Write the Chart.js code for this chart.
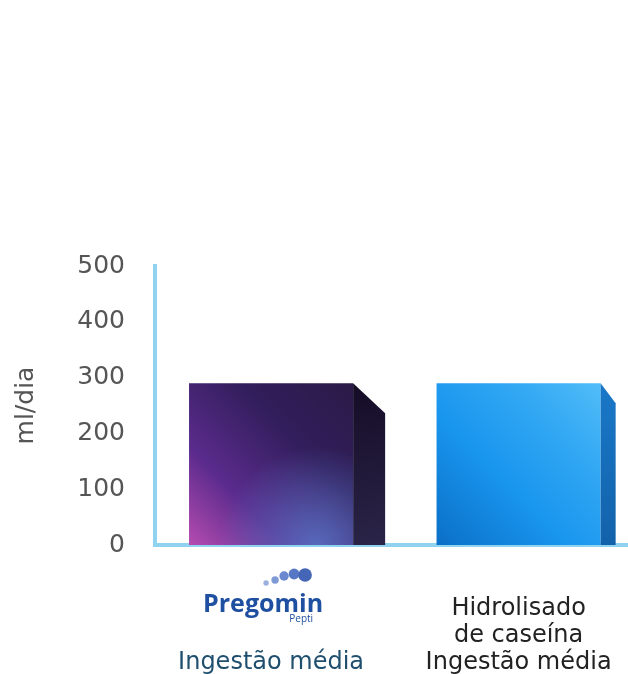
<!DOCTYPE html>
<html>
<head>
<meta charset="utf-8">
<script src="https://cdn.jsdelivr.net/npm/chart.js@4.4.1/dist/chart.umd.min.js"></script>
<style>
  html, body { margin: 0; padding: 0; background: #fff; }
  #wrap { width: 628px; height: 674px; }
</style>
</head>
<body>
<div id="wrap"><canvas id="chart"></canvas></div>
<script>
// dados
var categories = [
    ['', '', 'Ingestão média'],
    ['Hidrolisado', 'de caseína', 'Ingestão média']
];
var values = [290, 290];
var yTicks = [0, 100, 200, 300, 400, 500];
var yTitle = 'ml/dia';
var logoName = 'Pregomin';
var logoSub = 'Pepti';

var axisBlue = '#8fd3f1';
var barPct = 0.663;

// gradiente da face frontal
function frontFill(ctx) {
    var chart = ctx.chart;
    var xs = chart.scales.x, ys = chart.scales.y;
    var fallback = ctx.dataIndex === 0 ? '#2b1c4c' : '#1895ee';
    if (!chart.chartArea || !xs || !ys) return fallback;
    var cx = xs.getPixelForValue(ctx.dataIndex);
    var w = (xs.getPixelForValue(1) - xs.getPixelForValue(0)) * barPct;
    var top = ys.getPixelForValue(values[ctx.dataIndex]);
    var base = ys.getPixelForValue(0);
    if (![cx, w, top, base].every(isFinite)) return fallback;
    var g = chart.ctx.createLinearGradient(cx - w / 2, base, cx + w / 2, top);
    if (ctx.dataIndex === 0) {
        g.addColorStop(0, '#b54bb0');
        g.addColorStop(0.3, '#5a2b8c');
        g.addColorStop(0.65, '#321e5c');
        g.addColorStop(1, '#2a1a46');
    } else {
        g.addColorStop(0, '#0b6fc6');
        g.addColorStop(0.4, '#1895ee');
        g.addColorStop(0.75, '#35aaf4');
        g.addColorStop(1, '#52bdf8');
    }
    return g;
}

// face lateral e brilho
var bar3d = {
    id: 'bar3d',
    afterDatasetsDraw: function(chart, args, opts) {
        var c = chart.ctx;
        var meta = chart.getDatasetMeta(0);
        meta.data.forEach(function(bar, i) {
            var p = bar.getProps(['x', 'y', 'base', 'width'], true);
            if (![p.x, p.y, p.base, p.width].every(isFinite)) return;
            var right = p.x + p.width / 2;
            var left = p.x - p.width / 2;
            var d = opts.depth[i], dy = opts.drop[i];
            c.save();
            if (i === 0) {
                var gx = left + p.width * 0.78;
                var glow = c.createRadialGradient(gx, p.base, 2, gx, p.base, p.width * 0.6);
                glow.addColorStop(0, 'rgba(90,130,210,0.7)');
                glow.addColorStop(1, 'rgba(90,130,210,0)');
                c.fillStyle = glow;
                c.fillRect(left, p.y, p.width, p.base - p.y);
            }
            var sg = c.createLinearGradient(right, p.y, right + d, p.base);
            if (i === 0) {
                sg.addColorStop(0, '#150c26');
                sg.addColorStop(1, '#2a2448');
            } else {
                sg.addColorStop(0, '#1a78c8');
                sg.addColorStop(1, '#1262aa');
            }
            c.fillStyle = sg;
            c.beginPath();
            c.moveTo(right, p.y);
            c.lineTo(right + d, p.y + dy);
            c.lineTo(right + d, p.base);
            c.lineTo(right, p.base);
            c.closePath();
            c.fill();
            c.restore();
        });
    }
};

// logotipo sobre o primeiro rótulo
var logo = {
    id: 'logo',
    afterDraw: function(chart) {
        var c = chart.ctx;
        var x = chart.scales.x.getPixelForValue(0) - 8;
        var base = 612;
        c.save();
        var dots = [[3, 583, 2.7], [12, 580, 3.7], [21, 576, 4.7], [31, 574, 5.4], [42, 575, 6.8]];
        dots.forEach(function(d, k) {
            c.fillStyle = ['#9ab0de', '#7f9bd6', '#6a88cf', '#5577c4', '#4565b6'][k];
            c.beginPath();
            c.arc(x + d[0], d[1], d[2], 0, Math.PI * 2);
            c.fill();
        });
        c.fillStyle = '#1f4fa0';
        c.font = 'bold 25px "Open Sans"';
        c.textAlign = 'center';
        c.textBaseline = 'alphabetic';
        c.fillText(logoName, x, base);
        c.font = '10px "Open Sans"';
        c.textAlign = 'right';
        c.fillText(logoSub, x + 50, base + 10);
        c.restore();
    }
};

new Chart(document.getElementById('chart').getContext('2d'), {
    type: 'bar',
    data: {
        datasets: [{
            data: values.map(function(v, i) { return { x: i, y: v }; }),
            backgroundColor: frontFill,
            borderWidth: 0,
            barPercentage: barPct,
            categoryPercentage: 1
        }]
    },
    plugins: [bar3d, logo],
    options: {
        responsive: true,
        maintainAspectRatio: false,
        animation: false,
        layout: { padding: { top: 266, left: 0, right: 0, bottom: 0 } },
        plugins: {
            legend: { display: false },
            tooltip: { enabled: false },
            bar3d: { depth: [32, 15], drop: [30, 20] }
        },
        scales: {
            x: {
                type: 'linear',
                min: -0.469,
                max: 1.442,
                offset: false,
                afterBuildTicks: function(s) {
                    s.ticks = categories.map(function(c, i) { return { value: i }; });
                },
                grid: { display: false, drawTicks: false },
                border: { display: true, color: axisBlue, width: 4 },
                ticks: {
                    padding: 50,
                    maxRotation: 0,
                    autoSkip: false,
                    callback: function(v) { return categories[v]; },
                    font: { family: '"DejaVu Sans"', size: 24, lineHeight: 1.125 },
                    color: function(ctx) { return ctx.index === 0 ? '#1f4f6e' : '#222222'; }
                },
                afterFit: function(s) { s.height = 129; s.paddingLeft = 0; s.paddingRight = 0; }
            },
            y: {
                min: 0,
                max: 500,
                afterBuildTicks: function(s) {
                    s.ticks = yTicks.map(function(v) { return { value: v }; });
                },
                grid: { display: false, drawTicks: false },
                border: { display: true, color: axisBlue, width: 4 },
                ticks: {
                    padding: 30,
                    font: { family: '"DejaVu Sans"', size: 25 },
                    color: '#555555'
                },
                title: {
                    display: true,
                    text: yTitle,
                    color: '#555555',
                    font: { family: '"DejaVu Sans"', size: 25 },
                    padding: { top: 11, bottom: 0 }
                },
                afterFit: function(s) { s.width = 155; }
            }
        }
    }
});
</script>
</body>
</html>
